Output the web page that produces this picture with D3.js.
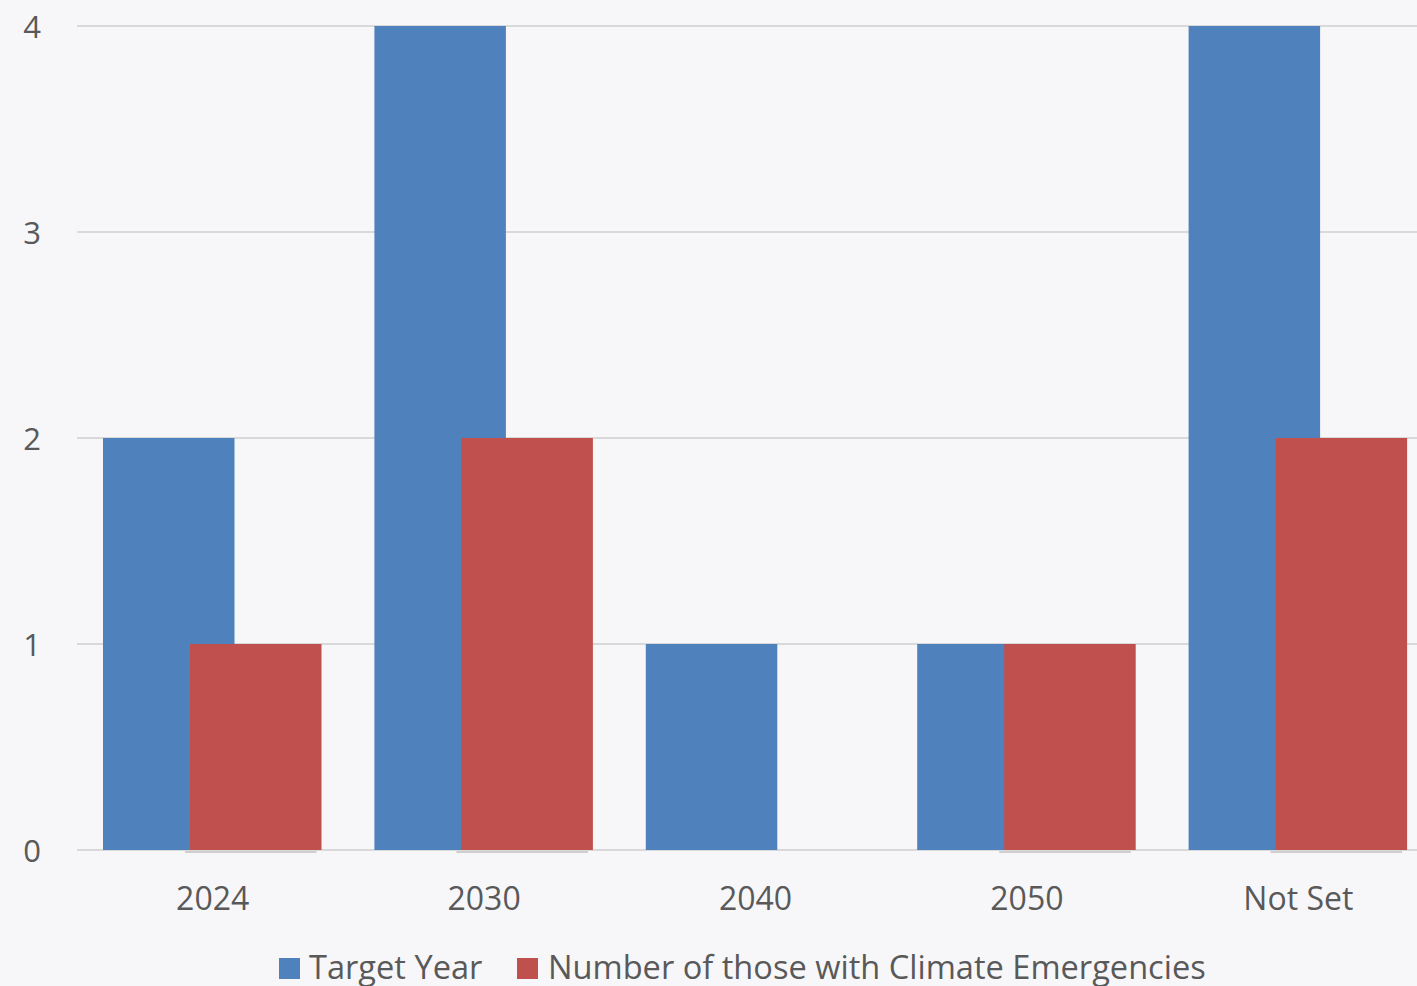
<!DOCTYPE html>
<html>
<head>
<meta charset="utf-8">
<script src="https://cdn.jsdelivr.net/npm/d3@7"></script>
<style>
  html, body { margin: 0; padding: 0; background: #f7f7f9; overflow: hidden; }
  svg { display: block; }
  text { font-family: "Open Sans", "Noto Sans", sans-serif; fill: #595959; }
</style>
</head>
<body>
<svg id="chart" width="1417" height="986"></svg>
<script>
const categories = ["2024", "2030", "2040", "2050", "Not Set"];
const seriesNames = ["Target Year", "Number of those with Climate Emergencies"];
const targetYear = [2, 4, 1, 1, 4];
const climateEmergencies = [1, 2, 0, 1, 2];
const yTicks = [0, 1, 2, 3, 4];
const colors = ["#4f81bd", "#c0504d"];

const W = 1417, H = 986;
const svg = d3.select("#chart");
svg.append("rect").attr("width", W).attr("height", H).attr("fill", "#f7f7f9");

const plotLeft = 77, plotRight = 1434, plotTop = 26, plotBottom = 850;

const x = d3.scaleBand().domain(categories).range([plotLeft, plotRight]).paddingInner(0).paddingOuter(0);
const y = d3.scaleLinear().domain([0, 4]).range([plotBottom, plotTop]);

const bw = x.bandwidth();
const gap = bw * 0.0958;          // outer gap on each side of the group
const barW = bw * 0.4845;          // width of each bar
const redOffset = bw * 0.4164;     // start of the red bar within the band

// gridlines
svg.append("g").selectAll("line").data(yTicks).join("line")
  .attr("x1", plotLeft).attr("x2", W)
  .attr("y1", d => y(d)).attr("y2", d => y(d))
  .attr("stroke", "#d9d9d9").attr("stroke-width", 2);

// y axis labels
const yAxis = d3.axisLeft(y).tickValues(yTicks).tickSize(0).tickPadding(0).tickFormat(d3.format("d"));
const yg = svg.append("g").attr("transform", "translate(41,0)").call(yAxis);
yg.select(".domain").remove();
yg.selectAll("text").attr("font-size", 31).attr("fill", "#595959")
  .style("font-family", '"Open Sans", sans-serif').attr("dy", "0.36em").attr("x", 0);

// blue bars
svg.append("g").selectAll("rect").data(categories).join("rect")
  .attr("x", d => x(d) + gap)
  .attr("width", barW)
  .attr("y", (d, i) => y(targetYear[i]))
  .attr("height", (d, i) => y(0) - y(targetYear[i]))
  .attr("fill", colors[0]);

// red bars
svg.append("g").selectAll("rect").data(categories).join("rect")
  .attr("x", d => x(d) + redOffset)
  .attr("width", barW)
  .attr("y", (d, i) => y(climateEmergencies[i]))
  .attr("height", (d, i) => y(0) - y(climateEmergencies[i]))
  .attr("fill", colors[1]);

// faint shadow line under red bars
svg.append("g").selectAll("line")
  .data(categories.filter((d, i) => climateEmergencies[i] > 0)).join("line")
  .attr("x1", d => x(d) + redOffset - 5)
  .attr("x2", d => x(d) + redOffset - 5 + barW)
  .attr("y1", y(0) + 2).attr("y2", y(0) + 2)
  .attr("stroke", "#a6a6a6").attr("stroke-width", 1);

// x axis labels
const xAxis = d3.axisBottom(x).tickSize(0).tickPadding(0);
const xg = svg.append("g").attr("transform", "translate(0,0)").call(xAxis);
xg.select(".domain").remove();
xg.selectAll(".tick line").remove();
xg.selectAll("text").attr("font-size", 32).attr("fill", "#595959")
  .style("font-family", '"Open Sans", sans-serif')
  .attr("y", 910).attr("dy", 0);

// legend
const legend = svg.append("g");
const legendItems = [
  { name: seriesNames[0], color: colors[0], sx: 279, tx: 309 },
  { name: seriesNames[1], color: colors[1], sx: 517, tx: 548 }
];
legendItems.forEach(it => {
  legend.append("rect").attr("x", it.sx).attr("y", 958).attr("width", 21).attr("height", 21).attr("fill", it.color);
  legend.append("text").attr("x", it.tx).attr("y", 979).attr("font-size", 32.6).text(it.name);
});
</script>
</body>
</html>
